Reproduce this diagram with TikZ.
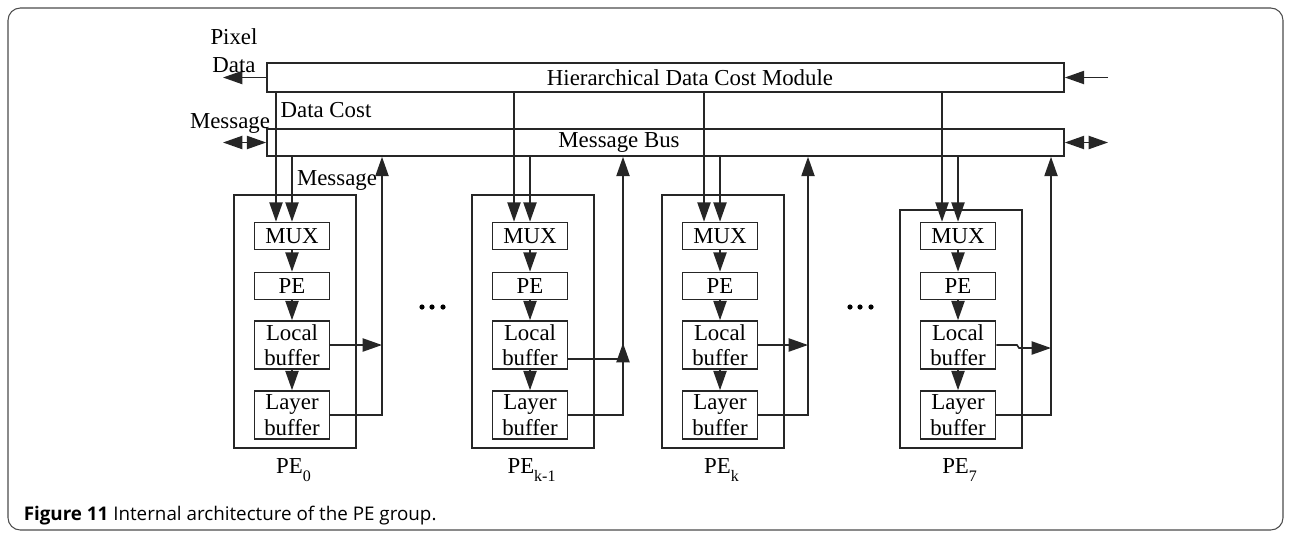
\documentclass[tikz,border=0pt]{standalone}
\usepackage{fontspec}
\setmainfont{Liberation Serif}
\newfontfamily\capfont{Open Sans}
\usetikzlibrary{arrows.meta}
\newcommand{\pxu}{0.02cm}

\begin{document}
\begin{tikzpicture}[x=\pxu, y=-\pxu, line width=0.9pt, draw=black!85,
    >={Triangle[length=11pt,width=7.5pt]},
    txt/.style={font=\fontsize{13}{14.5}\selectfont, inner sep=0pt, align=center},
    bar/.style={draw, minimum width=797*\pxu, inner sep=0pt},
    blk/.style={draw, txt, minimum width=75*\pxu},
    grpbox/.style={draw, minimum width=122*\pxu, inner sep=0pt}]
  \useasboundingbox (0,0) rectangle (1290,535);
  % frame and caption
  \draw[gray!60!black, line width=0.6pt, rounded corners=7pt] (8,8) rectangle (1283,530);
  \node[anchor=west, inner sep=0pt, font=\capfont\fontsize{10.7}{12}\selectfont] (cap) at (23,516)
    {\textbf{Figure 11} Internal architecture of the PE group.};

  % the two bars
  \node[bar, minimum height=29*\pxu] (hdcm) at (665.5,77.5) {};
  \node[txt] (hdcmtxt) at (690,77.5) {Hierarchical Data Cost Module};
  \node[bar, minimum height=27*\pxu] (bus) at (665.5,142.5) {};
  \node[txt] (bustxt) at (619,142.5) {Message Bus};

  % outside ports
  \coordinate (pxout) at (223,77.5);
  \coordinate (hin) at (1108,77.5);
  \coordinate (mleft) at (223,142.5);
  \coordinate (mright) at (1108,142.5);
  \draw[->] (hdcm.west) -- (pxout);
  \draw[->] (hin) -- (hdcm.east);
  \draw[<->] (mleft) -- (bus.west);
  \draw[<->] (bus.east) -- (mright);
  \node[txt, font=\fontsize{13}{16}\selectfont] (pixlbl) at (234,51) {Pixel\\Data};
  \node[txt] (msglbl) at (230,123) {Message};
  \node[txt] (costlbl) at (326,110) {Data Cost};
  \node[txt] (msgin) at (337,180) {Message};

  % PE columns
  \foreach \n/\c/\ux/\t/\lab in {0/292/382/195/0, a/530/623/195/k-1, b/720/808/195/k, 7/958/1051/210/7}{
    \node[grpbox, minimum height={(448-\t)*\pxu}] (grp\n) at (\c+3,{(448+\t)/2}) {};
    \node[blk, minimum height=27*\pxu] (mux\n) at (\c,236) {MUX};
    \node[blk, minimum height=27*\pxu] (pe\n) at (\c,286) {PE};
    \node[blk, minimum height=48*\pxu] (lb\n) at (\c,345) {Local\\buffer};
    \node[blk, minimum height=48*\pxu] (yb\n) at (\c,415) {Layer\\buffer};
    \node[txt] (name\n) at (\c+2,470) {PE\raisebox{-0.45ex}{\textsubscript{\lab}}};
    \draw[->] (mux\n) -- (pe\n);
    \draw[->] (pe\n) -- (lb\n);
    \draw[->] (lb\n) -- (yb\n);
    \coordinate (d\n) at (\c-16,0);
    \coordinate (u\n) at (\ux,0);
    \draw[->] (hdcm.south -| d\n) -- (mux\n.north -| d\n);
    \draw[->] (bus.south -| mux\n.north) -- (mux\n.north);
    \draw[->] (yb\n.east) -- (yb\n.east -| u\n) -- (bus.south -| u\n);
  }

  % local buffer outputs
  \draw[->] (lb0.east) -- (lb0.east -| u0);
  \draw[->] (lbb.east) -- (lbb.east -| ub);
  \coordinate (joina) at (623,359);
  \draw (lba.east |- joina) -- (joina);
  \draw[->] (joina) -- ++(0,-16);
  \coordinate (jog7) at (1017,345);
  \draw[->] (lb7.east) -- (jog7) -- ++(2,3) -- (u7 |- 0,348);

  % dots between groups
  \foreach \x in {422,432,443}{
    \fill (\x,307) circle (2.6);
    \fill (\x+428,307) circle (2.6);
  }
\end{tikzpicture}
\end{document}
